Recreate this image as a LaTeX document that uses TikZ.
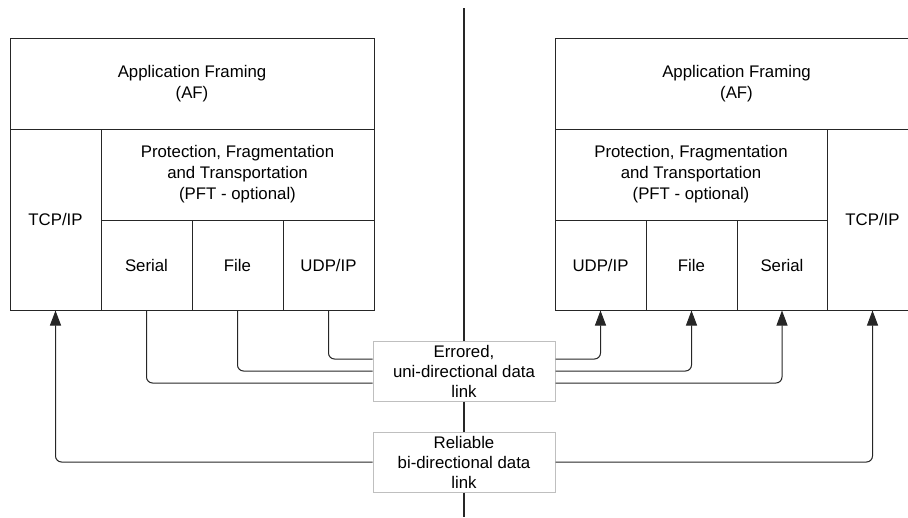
\documentclass[tikz,border=0pt]{standalone}
\usepackage{fontspec}
\setmainfont{Liberation Sans}
\usetikzlibrary{arrows.meta}
\tikzset{
  cell/.style={draw=black!85, line width=1pt, fill=white, inner sep=0pt, align=center,
    font=\fontsize{16.8}{21}\selectfont},
  linkbox/.style={draw=black!25, line width=1pt, fill=white, inner sep=0pt, align=center,
    minimum width=182pt, minimum height=60pt, font=\fontsize{16.8}{20}\selectfont},
  link/.style={draw=black!85, line width=1pt, rounded corners=6pt},
  arr/.style={link, -{Triangle[length=15pt,width=11pt]}},
  divider/.style={draw=black!85, line width=1.1pt}
}
\begin{document}
\begin{tikzpicture}[x=1pt,y=-1pt]
\useasboundingbox (0,0) rectangle (908,517);
\clip (0,0) rectangle (908,517);
% left stack
\node[cell, minimum width=364pt, minimum height=91pt] (afL) at (192,83.5) {Application Framing\\(AF)};
\node[cell, minimum width=91pt, minimum height=181pt] (tcpL) at (55.5,219.5) {TCP/IP};
\node[cell, minimum width=273pt, minimum height=91pt] (pftL) at (237.5,174.5) {Protection, Fragmentation\\and Transportation\\(PFT - optional)};
\node[cell, minimum width=91pt, minimum height=90pt] (serL) at (146.5,265) {Serial};
\node[cell, minimum width=91pt, minimum height=90pt] (fileL) at (237.5,265) {File};
\node[cell, minimum width=91pt, minimum height=90pt] (udpL) at (328.5,265) {UDP/IP};
% right stack (its right edge lies beyond the picture)
\node[cell, minimum width=363pt, minimum height=91pt] (afR) at (736.5,83.5) {Application Framing\\(AF)};
\node[cell, minimum width=272pt, minimum height=91pt] (pftR) at (691,174.5) {Protection, Fragmentation\\and Transportation\\(PFT - optional)};
\node[cell, minimum width=91pt, minimum height=90pt] (udpR) at (600.5,265) {UDP/IP};
\node[cell, minimum width=91pt, minimum height=90pt] (fileR) at (691.5,265) {File};
\node[cell, minimum width=90pt, minimum height=90pt] (serR) at (782,265) {Serial};
\node[cell, minimum width=91pt, minimum height=181pt] (tcpR) at (872.5,219.5) {TCP/IP};
% link boxes
\node[linkbox] (err) at (464,371) {Errored,\\uni-directional data\\link};
\node[linkbox] (rel) at (464,462) {Reliable\\bi-directional data\\link};
% centre divider
\coordinate (top) at (464,8);
\coordinate (bot) at (464,517);
\draw[divider] (top) -- (err.north);
\draw[divider] (err.south) -- (rel.north);
\draw[divider] (rel.south) -- (bot);
% errored links
\draw[link] (udpL.south) |- ([yshift=12pt]err.west);
\draw[link] (fileL.south) |- (err.west);
\draw[link] (serL.south) |- ([yshift=-12pt]err.west);
\draw[arr] ([yshift=12pt]err.east) -| (udpR.south);
\draw[arr] (err.east) -| (fileR.south);
\draw[arr] ([yshift=-12pt]err.east) -| (serR.south);
% reliable links
\draw[arr] (rel.west) -| (tcpL.south);
\draw[arr] (rel.east) -| (tcpR.south);
\end{tikzpicture}
\end{document}
